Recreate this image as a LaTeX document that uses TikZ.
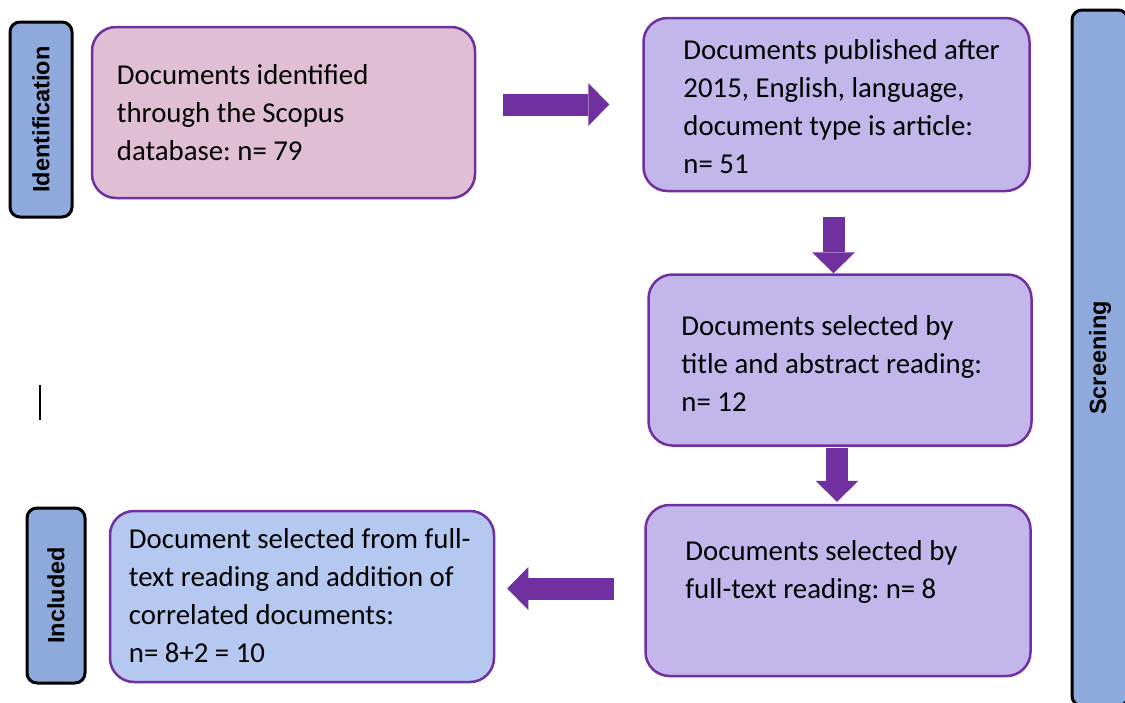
\documentclass[tikz,border=0pt]{standalone}
\usepackage{fontspec}
\setmainfont{Carlito}
\newfontfamily\labelfont{Liberation Sans}
\usetikzlibrary{positioning,arrows.meta}
\frenchspacing
\definecolor{FlowPurple}{HTML}{7030A0}
\definecolor{PinkFill}{HTML}{E0BFD4}
\definecolor{LavenderFill}{HTML}{C3B6EB}
\definecolor{LightBlueFill}{HTML}{B4C8F0}
\definecolor{PhaseBlue}{HTML}{8EA9DB}
\tikzstyle{StageNode}=[rectangle, draw=FlowPurple, line width=2.5pt, rounded corners=24pt, minimum width=383pt, minimum height=171pt]
\tikzstyle{StageText}=[align=left, inner sep=0pt, font=\fontsize{28.8}{38}\selectfont]
\tikzstyle{PhaseNode}=[rectangle, draw=black, fill=PhaseBlue, line width=3pt, rounded corners=10pt, rotate=90, font=\labelfont\bfseries\fontsize{23.5}{28}\selectfont]
\tikzstyle{FlowArrow}=[draw=FlowPurple, line width=22pt, -{Triangle[length=21pt,width=43pt,line width=0pt]}]

\begin{document}
\begin{tikzpicture}[x=1pt, y=-1pt]
    \useasboundingbox (0,0) rectangle (1125,702);

    \node (box1) [StageNode, fill=PinkFill] at (283.5,112.5) {};
    \node (box2) [StageNode, fill=LavenderFill, minimum width=386pt, minimum height=173pt, right=166pt of box1, yshift=8pt] {};
    \node (box3) [StageNode, fill=LavenderFill, below=81pt of box2, xshift=3.5pt] {};
    \node (box4) [StageNode, fill=LavenderFill, minimum width=385pt, below=57pt of box3, xshift=-2pt] {};
    \node (box5) [StageNode, fill=LightBlueFill, minimum width=384pt, left=149pt of box4, yshift=-6pt] {};

    \node (box1text) [StageText, right=26pt of box1.west] {Documents identified\\through the Scopus\\database: n= 79};
    \node (box2text) [StageText, right=41pt of box2.west, yshift=-2pt] {Documents published after\\2015, English, language,\\document type is article:\\n= 51};
    \node (box3text) [StageText, right=34pt of box3.west, yshift=-3pt] {Documents selected by\\title and abstract reading:\\n= 12};
    \node (box4text) [StageText, right=41pt of box4.west, yshift=19pt] {Documents selected by\\full-text reading: n= 8};
    \node (box5text) [StageText, right=20pt of box5.west, yshift=1pt] {Document selected from full-\\text reading and addition of\\correlated documents:\\n= 8+2 = 10};

    \node (identification) [PhaseNode, minimum width=195pt, minimum height=62pt] at (41,119.5) {Identification};
    \node (included) [PhaseNode, minimum width=175pt, minimum height=58pt] at (56,595.5) {Included};
    \node (screening) [PhaseNode, minimum width=696pt, minimum height=56pt] at (1100,358) {Screening};

    \draw [FlowArrow, shorten <=27pt, shorten >=33pt] (box1.east |- box2.west) -- (box2.west);
    \draw [FlowArrow, shorten <=25pt] ([xshift=-3pt]box2.south) -- ([xshift=-3pt]box2.south |- box3.north);
    \draw [FlowArrow, shorten <=1pt, shorten >=2pt] ([xshift=-3pt]box3.south) -- ([xshift=-3pt]box3.south |- box4.north);
    \draw [FlowArrow, shorten <=30pt, shorten >=12pt] ([yshift=2pt]box4.west) -- ([yshift=2pt]box4.west -| box5.east);

    \draw [line width=1.5pt] (40,385) -- (40,420);
  \end{tikzpicture}
\end{document}
